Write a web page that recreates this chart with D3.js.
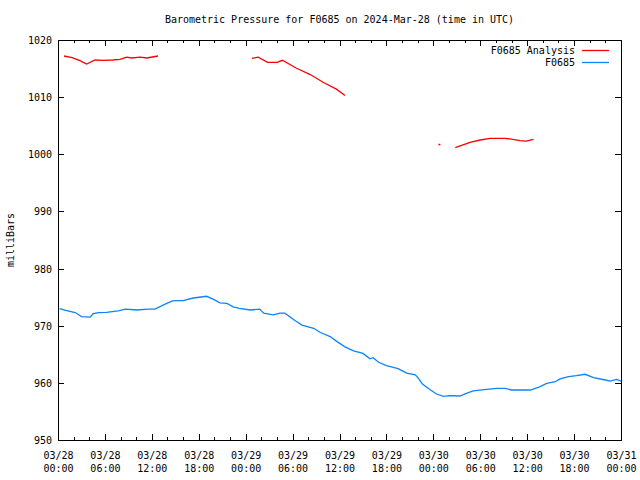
<!DOCTYPE html>
<html><head><meta charset="utf-8">
<script src="https://cdn.jsdelivr.net/npm/d3@7"></script>
<style>body{margin:0;background:#fff}svg{display:block}text{font-family:"DejaVu Sans Mono",monospace;font-size:10px;fill:#000}</style>
</head><body><svg id="c" width="640" height="480"></svg>
<script>
const titleText = "Barometric Pressure for F0685 on 2024-Mar-28 (time in UTC)";
const yLabel = "milliBars";
const seriesNames = ["F0685 Analysis", "F0685"];
const seriesColors = ["#ff0000", "#0a84ff"];
const yTicks = [950, 960, 970, 980, 990, 1000, 1010, 1020];
// hours since 2024-03-28 00:00 UTC
const analysisHours = [0.77,1.8,2.8,3.67,4.73,5.59,7.0,7.93,8.79,9.43,10.49,11.34,12.79, null,
  24.8,25.6,26.8,28.0,28.7,30.5,32.2,33.9,35.6,36.7, null,
  48.77, null,
  50.8,51.7,52.7,54.0,55.25,57.2,59.1,59.9,60.8];
const analysisValues = [1017.2,1016.9,1016.4,1015.8,1016.5,1016.45,1016.5,1016.6,1017.0,1016.85,1017.0,1016.85,1017.2, null,
  1016.8,1017.0,1016.1,1016.1,1016.45,1015.05,1014.0,1012.6,1011.4,1010.3, null,
  1001.75, null,
  1001.15,1001.6,1002.1,1002.5,1002.8,1002.8,1002.4,1002.3,1002.6];
const obsHours = [0.2,1.0,2.2,3.0,4.1,4.5,5.2,6.2,7.7,8.6,10.1,11.5,12.4,13.9,14.75,16.0,17.3,19.0,19.9,20.7,21.6,22.4,23.2,
  24.6,25.8,26.3,27.5,28.4,29.0,30.3,31.2,32.7,33.5,34.8,35.6,36.7,37.8,39.0,39.9,40.3,41.0,42.0,43.5,44.6,45.7,46.1,46.6,47.6,
  48.4,49.3,50.1,51.4,52.3,53.1,54.8,56.1,57.2,58.0,60.4,61.6,62.5,63.6,64.2,65.3,66.3,67.4,68.5,70.0,70.6,71.45,72.0];
const obsValues = [973.0,972.7,972.3,971.6,971.5,972.1,972.3,972.35,972.6,972.9,972.75,972.9,972.9,973.9,974.4,974.4,974.85,975.15,974.6,974.0,973.9,973.3,973.05,
  972.75,972.9,972.2,971.9,972.2,972.2,970.9,970.1,969.55,968.85,968.1,967.3,966.3,965.6,965.15,964.2,964.4,963.6,963.0,962.5,961.7,961.4,960.8,959.8,958.8,
  958.05,957.65,957.75,957.7,958.2,958.6,958.85,959.05,959.05,958.75,958.75,959.3,959.9,960.2,960.7,961.1,961.25,961.5,960.9,960.5,960.3,960.6,960.3];

const W = 640, H = 480, m = {l:58, r:19, t:40, b:40};
const svg = d3.select("#c");
const t0 = Date.UTC(2024,2,28,0), t1 = Date.UTC(2024,2,31,0);
const hr = h => new Date(t0 + h*3600e3);
const x = d3.scaleUtc().domain([new Date(t0), new Date(t1)]).range([m.l, W-m.r]);
const y = d3.scaleLinear().domain([950,1020]).range([H-m.b, m.t]);

const majorT = d3.utcHour.every(6).range(new Date(t0), new Date(t1+1));
const minorT = d3.utcHour.every(2).range(new Date(t0), new Date(t1+1)).filter(d => d.getUTCHours()%6 !== 0);

function styleAxis(g){ g.select(".domain").remove(); g.selectAll("line").attr("stroke","#000").attr("shape-rendering","crispEdges"); }
// bottom major with labels
const fmtD = d3.utcFormat("%m/%d"), fmtT = d3.utcFormat("%H:%M");
const gb = svg.append("g").attr("transform",`translate(0,${H-m.b})`)
  .call(d3.axisBottom(x).tickValues(majorT).tickSize(-6).tickFormat(""));
styleAxis(gb);
gb.selectAll(".tick").each(function(d){
  const t = d3.select(this).append("text").attr("text-anchor","middle").attr("y",19);
  t.append("tspan").attr("x",0).text(fmtD(d));
  t.append("tspan").attr("x",0).attr("dy",13).text(fmtT(d));
});
styleAxis(svg.append("g").attr("transform",`translate(0,${H-m.b})`).call(d3.axisBottom(x).tickValues(minorT).tickSize(-3).tickFormat("")));
styleAxis(svg.append("g").attr("transform",`translate(0,${m.t})`).call(d3.axisTop(x).tickValues(majorT).tickSize(-6).tickFormat("")));
styleAxis(svg.append("g").attr("transform",`translate(0,${m.t})`).call(d3.axisTop(x).tickValues(minorT).tickSize(-3).tickFormat("")));
const gl = svg.append("g").attr("transform",`translate(${m.l},0)`).call(d3.axisLeft(y).tickValues(yTicks).tickSize(-6).tickPadding(6).tickFormat(d3.format("d")));
styleAxis(gl);
gl.selectAll("text").attr("font-size",null).attr("font-family",null).attr("dy","0.35em");
styleAxis(svg.append("g").attr("transform",`translate(${W-m.r},0)`).call(d3.axisRight(y).tickValues(yTicks).tickSize(-6).tickFormat("")));

// frame
svg.append("rect").attr("x",m.l+0.5).attr("y",m.t+0.5).attr("width",W-m.l-m.r).attr("height",H-m.t-m.b)
  .attr("fill","none").attr("stroke","#000").attr("shape-rendering","crispEdges");

// title & labels
svg.append("text").attr("x",(m.l+W-m.r)/2).attr("y",23).attr("text-anchor","middle").text(titleText);
svg.append("text").attr("transform",`translate(14,${(m.t+H-m.b)/2}) rotate(-90)`).attr("text-anchor","middle").text(yLabel);

// series
const aData = analysisHours.map((h,i)=>({h, v: analysisValues[i]}));
const oData = obsHours.map((h,i)=>({h, v: obsValues[i]}));
const line = d3.line().defined(d=>d.h!==null && d.v!==null).x(d=>x(hr(d.h))).y(d=>y(d.v));
svg.append("path").datum(oData).attr("d",line).attr("fill","none").attr("stroke",seriesColors[1]).attr("stroke-width",1.3);
svg.append("path").datum(aData).attr("d",line).attr("fill","none").attr("stroke",seriesColors[0]).attr("stroke-width",1.3);
// isolated analysis points
aData.forEach((d,i)=>{
  if(d.h===null) return;
  const p = aData[i-1], n = aData[i+1];
  if((!p||p.h===null)&&(!n||n.h===null)){
    svg.append("rect").attr("x",x(hr(d.h))-1).attr("y",y(d.v)-0.5).attr("width",2).attr("height",1.5).attr("fill",seriesColors[0]);
  }
});

// legend
seriesNames.forEach((n,i)=>{
  const yy = 50 + i*12;
  svg.append("text").attr("x",575).attr("y",yy).attr("dy","0.35em").attr("text-anchor","end").text(n);
  svg.append("line").attr("x1",582).attr("x2",609).attr("y1",yy+0.5).attr("y2",yy+0.5).attr("stroke",seriesColors[i]).attr("stroke-width",1.3);
});
</script></body></html>
